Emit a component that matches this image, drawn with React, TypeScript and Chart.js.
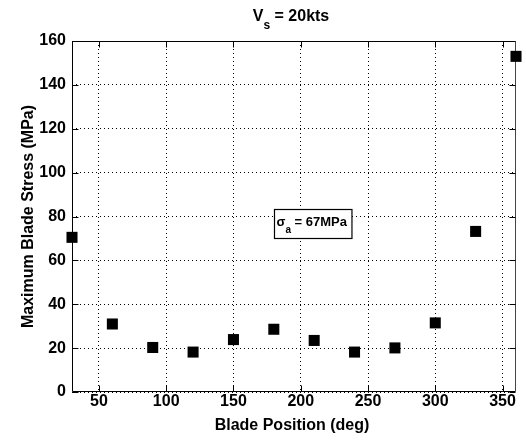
import React, { useEffect, useRef } from "react";
import { Chart, registerables } from "chart.js";

Chart.register(...registerables);

const bladePositions = [30, 60, 90, 120, 150, 180, 210, 240, 270, 300, 330, 360];
const bladeStress = [70.5, 31.0, 20.3, 18.2, 23.9, 28.6, 23.5, 18.2, 20.1, 31.5, 73.2, 153.0];
const xTickValues = [50, 100, 150, 200, 250, 300, 350];
const yTickValues = [0, 20, 40, 60, 80, 100, 120, 140, 160];
const xRange = [30, 360];
const yRange = [0, 160];
const titleMain = "V";
const titleSub = "s";
const titleRest = " = 20kts";
const xTitle = "Blade Position (deg)";
const yTitle = "Maximum Blade Stress (MPa)";
const noteMain = "σ";
const noteSub = "a";
const noteRest = " = 67MPa";
const noteAnchor = { x: 209, y: 77 };

const FONT = "'Liberation Sans', Arial, sans-serif";

const decorPlugin = {
  id: "decor",
  beforeDatasetsDraw(chart: any) {
    const { ctx, chartArea } = chart;
    const { left, right, top, bottom } = chartArea;
    const xs = chart.scales.x;
    const ys = chart.scales.y;
    ctx.save();
    ctx.setLineDash([]);
    ctx.lineWidth = 1;
    ctx.strokeStyle = "#000";
    const L = Math.round(left) + 0.5;
    const R = Math.round(right) - 0.5;
    const T = Math.round(top) + 0.5;
    const B = Math.round(bottom) - 0.5;
    ctx.beginPath();
    ctx.moveTo(L, B);
    ctx.lineTo(L, T);
    ctx.lineTo(R, T);
    ctx.moveTo(L, B);
    ctx.lineTo(R, B);
    ctx.stroke();
    ctx.strokeStyle = "#444";
    ctx.beginPath();
    ctx.moveTo(R, T);
    ctx.lineTo(R, B);
    ctx.stroke();
    ctx.strokeStyle = "#000";
    const tl = 6;
    ctx.beginPath();
    for (const v of xTickValues) {
      const px = Math.round(xs.getPixelForValue(v)) + 0.5;
      ctx.moveTo(px, B);
      ctx.lineTo(px, B - tl);
      ctx.moveTo(px, T);
      ctx.lineTo(px, T + tl);
    }
    for (const v of yTickValues) {
      const py = Math.round(ys.getPixelForValue(v)) + 0.5;
      ctx.moveTo(L, py);
      ctx.lineTo(L + tl, py);
      ctx.moveTo(R, py);
      ctx.lineTo(R - tl, py);
    }
    ctx.stroke();
    ctx.restore();
  },
  afterDatasetsDraw(chart: any) {
    const { ctx, chartArea } = chart;
    const xs = chart.scales.x;
    const ys = chart.scales.y;
    const cxArea = (chartArea.left + chartArea.right) / 2;
    const cyArea = (chartArea.top + chartArea.bottom) / 2;
    ctx.save();
    ctx.fillStyle = "#000";
    ctx.textBaseline = "alphabetic";

    // Title
    const fMain = `bold 16px ${FONT}`;
    const fSub = `bold 12px ${FONT}`;
    ctx.font = fMain;
    const w1 = ctx.measureText(titleMain).width;
    const w3 = ctx.measureText(titleRest).width;
    ctx.font = fSub;
    const w2 = ctx.measureText(titleSub).width;
    let tx = cxArea - 3 - (w1 + w2 + w3) / 2;
    ctx.textAlign = "left";
    ctx.font = fMain;
    ctx.fillText(titleMain, tx, 21);
    ctx.font = fSub;
    ctx.fillText(titleSub, tx + w1, 29);
    ctx.font = fMain;
    ctx.fillText(titleRest, tx + w1 + w2, 21);

    // X title
    ctx.textAlign = "center";
    ctx.font = `bold 16px ${FONT}`;
    ctx.fillText(xTitle, cxArea - 2, 430);

    // Y title
    ctx.save();
    ctx.translate(33, cyArea);
    ctx.rotate(-Math.PI / 2);
    ctx.fillText(yTitle, 0, 0);
    ctx.restore();

    // Annotation box
    const ax = xs.getPixelForValue(noteAnchor.x);
    const ay = ys.getPixelForValue(noteAnchor.y);
    const nMain = `bold 13px ${FONT}`;
    const nSub = `bold 10px ${FONT}`;
    ctx.font = nMain;
    const n1 = ctx.measureText(noteMain).width;
    const n3 = ctx.measureText(noteRest).width;
    ctx.font = nSub;
    const n2 = ctx.measureText(noteSub).width;
    const tw = n1 + n2 + n3;
    const bw = tw + 7;
    const bh = 29;
    const bl = Math.round(ax - bw / 2) + 0.5;
    const bt = Math.round(ay - bh / 2) + 0.5;
    ctx.fillStyle = "#fff";
    ctx.fillRect(bl, bt, bw, bh);
    ctx.strokeStyle = "#000";
    ctx.lineWidth = 1.2;
    ctx.strokeRect(bl, bt, bw, bh);
    ctx.fillStyle = "#000";
    ctx.textAlign = "left";
    const sx = bl + 2;
    ctx.font = nMain;
    ctx.fillText(noteMain, sx, ay + 3);
    ctx.font = nSub;
    ctx.fillText(noteSub, sx + n1, ay + 10);
    ctx.font = nMain;
    ctx.fillText(noteRest, sx + n1 + n2, ay + 3);
    ctx.restore();
  },
};

export default function App() {
  const canvasRef = useRef<HTMLCanvasElement | null>(null);

  useEffect(() => {
    if (!canvasRef.current) return;
    const points = bladePositions.map((x, i) => ({ x, y: bladeStress[i] }));
    const tickFont = { family: FONT, size: 16, weight: "bold" as const };
    const chart = new Chart(canvasRef.current, {
      type: "scatter",
      data: {
        datasets: [
          {
            data: points,
            pointStyle: "rect",
            pointRadius: 7.8,
            pointHoverRadius: 7.8,
            backgroundColor: "#000",
            borderColor: "#000",
            borderWidth: 0,
            showLine: false,
            clip: false as any,
          },
        ],
      },
      options: {
        animation: false,
        responsive: false,
        events: [],
        layout: { padding: { top: 41, right: 10, left: 0, bottom: 0 } },
        plugins: {
          legend: { display: false },
          title: { display: false },
          tooltip: { enabled: false },
        },
        scales: {
          x: {
            type: "linear",
            min: xRange[0],
            max: xRange[1],
            afterBuildTicks: (scale: any) => {
              scale.ticks = xTickValues.map((v) => ({ value: v }));
            },
            afterFit: (scale: any) => {
              scale.height = 48;
            },
            grid: { color: "#000", lineWidth: 1, drawTicks: false },
            border: { display: false, dash: [1, 3] },
            ticks: { font: tickFont, color: "#000", padding: 0, maxRotation: 0 },
          },
          y: {
            type: "linear",
            min: yRange[0],
            max: yRange[1],
            afterBuildTicks: (scale: any) => {
              scale.ticks = yTickValues.map((v) => ({ value: v }));
            },
            afterFit: (scale: any) => {
              scale.width = 72;
            },
            grid: { color: "#000", lineWidth: 1, drawTicks: false },
            border: { display: false, dash: [1, 3] },
            ticks: { font: tickFont, color: "#000", padding: 6 },
          },
        },
      },
      plugins: [decorPlugin],
    });
    return () => chart.destroy();
  }, []);

  return (
    <div style={{ position: "fixed", left: 0, top: 0, width: 526, height: 440, background: "#fff" }}>
      <canvas ref={canvasRef} width={526} height={440} style={{ width: 526, height: 440, display: "block" }} />
    </div>
  );
}
